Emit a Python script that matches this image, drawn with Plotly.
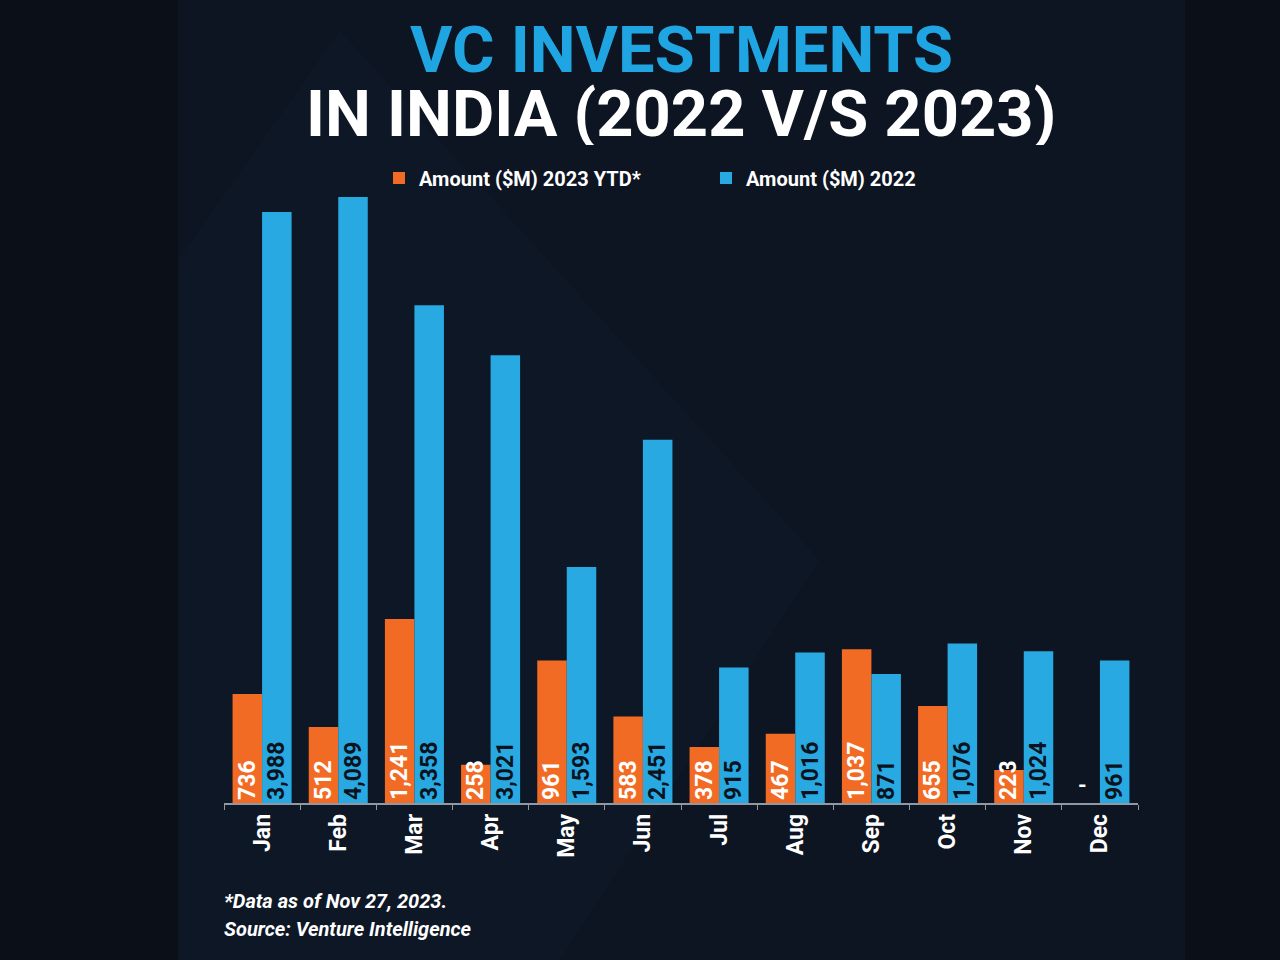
import plotly.graph_objects as go

months = ["Jan", "Feb", "Mar", "Apr", "May", "Jun", "Jul", "Aug", "Sep", "Oct", "Nov", "Dec"]
amount_2023 = [736, 512, 1241, 258, 961, 583, 378, 467, 1037, 655, 223, None]
amount_2022 = [3988, 4089, 3358, 3021, 1593, 2451, 915, 1016, 871, 1076, 1024, 961]

ORANGE = "#f26b25"
BLUE = "#29a9e1"
BG = "#0b0f18"
PANEL = "#0d1422"
FONT = "Roboto, Liberation Sans, sans-serif"

W, H = 1280, 960
L, R, T, B = 224, 142, 190, 157
PW, PH = W - L - R, H - T - B


def px_x(px):
    return (px - L) / PW


def px_y(py):
    return (H - B - py) / PH


def fmt(v):
    return "" if v is None else f"<b>{v:,}</b>"


fig = go.Figure()
fig.add_trace(go.Bar(
    x=months, y=amount_2023, name="<b>Amount ($M) 2023 YTD*</b>",
    marker=dict(color=ORANGE, line=dict(width=0)),
    text=[fmt(v) for v in amount_2023], textposition="inside",
    insidetextanchor="start", textangle=-90,
    insidetextfont=dict(color="white", size=23, family=FONT),
))
fig.add_trace(go.Bar(
    x=months, y=amount_2022, name="<b>Amount ($M) 2022</b>",
    marker=dict(color=BLUE, line=dict(width=0)),
    text=[fmt(v) for v in amount_2022], textposition="inside",
    insidetextanchor="start", textangle=-90,
    insidetextfont=dict(color="#0b1320", size=23, family=FONT),
))

shapes = [
    dict(type="rect", xref="paper", yref="paper", x0=px_x(178), x1=px_x(1185),
         y0=px_y(960), y1=px_y(0), fillcolor=PANEL, line=dict(width=0), layer="below"),
    dict(type="path", xref="paper", yref="paper",
         path=f"M {px_x(178)},{px_y(260)} L {px_x(340)},{px_y(30)} L {px_x(820)},{px_y(560)} L {px_x(560)},{px_y(960)} L {px_x(178)},{px_y(960)} Z",
         fillcolor="#15283f", opacity=0.15, line=dict(width=0), layer="below"),
]

annotations = [
    dict(text="<b>VC INVESTMENTS</b>", x=0.5, y=px_y(50), xref="paper", yref="paper",
         showarrow=False, font=dict(size=65, color="#1fa6e2", family=FONT),
         xanchor="center", yanchor="middle", height=62, valign="middle"),
    dict(text="<b>IN INDIA (2022 V/S 2023)</b>", x=0.5, y=px_y(114), xref="paper", yref="paper",
         showarrow=False, font=dict(size=65, color="white", family=FONT),
         xanchor="center", yanchor="middle", height=62, valign="middle"),
    dict(text="<b><i>*Data as of Nov 27, 2023.</i></b>", x=px_x(222), y=px_y(901),
         xref="paper", yref="paper", showarrow=False, xanchor="left", yanchor="middle",
         font=dict(size=20, color="white", family=FONT)),
    dict(text="<b><i>Source: Venture Intelligence</i></b>", x=px_x(222), y=px_y(929),
         xref="paper", yref="paper", showarrow=False, xanchor="left", yanchor="middle",
         font=dict(size=20, color="white", family=FONT)),
    dict(text="<b>-</b>", x="Dec", y=0, xref="x", yref="y", yshift=18, xshift=-17,
         showarrow=False, font=dict(size=22, color="white", family=FONT)),
]

fig.update_layout(
    width=W, height=H,
    margin=dict(l=L, r=R, t=T, b=B),
    paper_bgcolor=BG, plot_bgcolor="rgba(0,0,0,0)",
    barmode="group", bargap=0.225, bargroupgap=0,
    uniformtext=dict(minsize=23, mode="show"),
    showlegend=True,
    legend=dict(orientation="h", x=px_x(379), y=px_y(178), xanchor="left", yanchor="middle",
                font=dict(size=20, color="white", family=FONT),
                entrywidth=282, entrywidthmode="pixels", bgcolor="rgba(0,0,0,0)"),
    shapes=shapes, annotations=annotations,
    font=dict(family=FONT, color="white"),
)
fig.update_xaxes(
    type="category", showgrid=False, showline=True, linecolor="#8f98a3", linewidth=1.5,
    ticks="outside", tickson="boundaries", ticklen=5, tickcolor="#8f98a3",
    tickangle=-90, tickfont=dict(size=23, color="white", family=FONT),
    ticktext=[f"<b>{m}</b>" for m in months], tickvals=months,
)
fig.update_yaxes(range=[0, PH / 0.14821], visible=False, showgrid=False, zeroline=False)

fig.write_html("out.html", config={"displayModeBar": False},
               post_script="document.body.style.margin='0px';")
